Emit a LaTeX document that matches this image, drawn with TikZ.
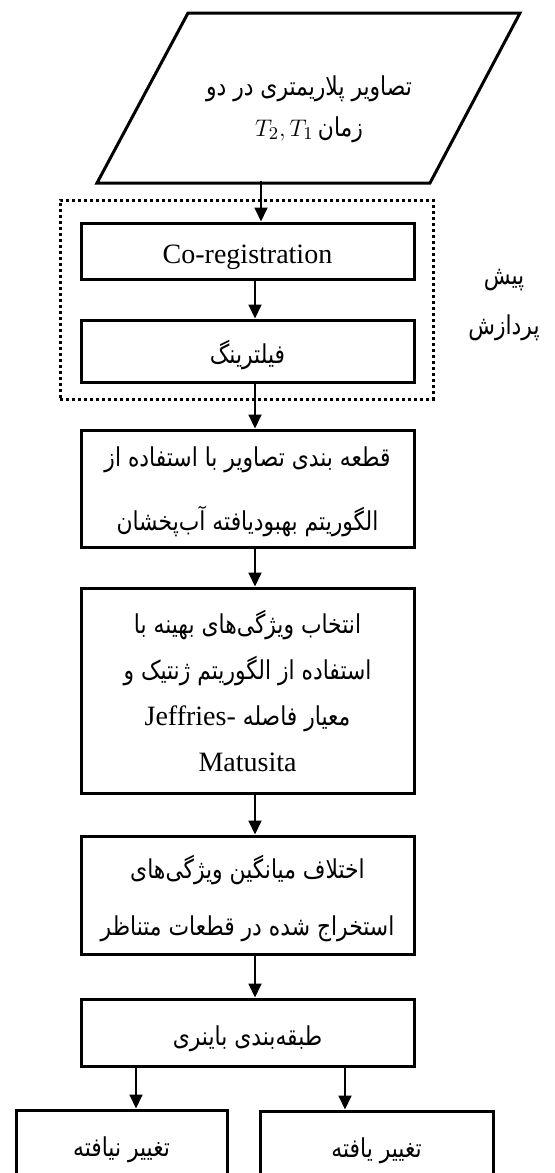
\documentclass[tikz,border=0pt]{standalone}
\usepackage{fontspec}
\setmainfont{Liberation Serif}
\newfontfamily\fa[Script=Arabic,FakeStretch=0.84]{DejaVu Sans}
\TeXXeTstate=1
\usetikzlibrary{arrows.meta}
\newcommand{\lowered}[2]{\raisebox{-#1}[\height][\depth]{#2}}
\tikzset{
  box/.style={draw, line width=1.5pt, minimum width=166.5pt, align=center,
    inner sep=0pt, text depth=0pt, font=\fa\fontsize{13}{24}\selectfont},
  latin/.style={font=\rmfamily\fontsize{14}{24}\selectfont},
  dotbox/.style={draw, line width=1.5pt, dash pattern=on 1.5pt off 1.5pt,
    minimum width=186.5pt, minimum height=99.5pt, inner sep=0pt},
  arr/.style={line width=0.9pt, -{Triangle[width=6.5pt,length=7pt]}},
}
\begin{document}
\begin{tikzpicture}[x=0.5pt,y=-0.5pt]
  \useasboundingbox (0,0) rectangle (554,1173);
  \clip (0,0) rectangle (554,1173);
  \draw
    (309,106) node[align=center, text depth=0pt, font=\fa\fontsize{13}{24}\selectfont] (input)
      {\beginR تصاویر پلاریمتری در دو\endR\\[-3.5pt]\beginR زمان\,\beginL$T_2, T_1$\endL\endR}
    (246.5,299.5) node[dotbox] (prep) {}
    (247.5,251) node[box, latin, minimum height=28pt] (coreg) {\lowered{1.5pt}{Co-registration}}
    (247.5,351) node[box, minimum height=31pt] (filter) {\lowered{0.5pt}{\beginR فیلترینگ\endR}}
    (504,305) node[align=center, font=\fa\fontsize{13}{24}\selectfont] (preplabel)
      {\beginR پیش\endR\\[1pt]\beginR پردازش\endR}
    (247.5,488.5) node[box, minimum height=58.5pt] (segment)
      {\beginR قطعه بندی تصاویر با استفاده از\endR\\[8pt]\beginR الگوریتم بهبودیافته آب^^^^200cپخشان\endR}
    (247.5,690.5) node[box, minimum height=102.5pt] (select)
      {\beginR انتخاب ویژگی^^^^200cهای بهینه با\endR\\[-1pt]\beginR استفاده از الگوریتم ژنتیک و\endR\\[-1pt]
       \beginR معیار فاصله \beginL{\rmfamily\fontsize{14}{24}\selectfont Jeffries-}\endL\endR\\[-1pt]
       {\rmfamily\fontsize{14}{24}\selectfont Matusita}}
    (247.5,895) node[box, minimum height=59pt] (diff)
      {\beginR اختلاف میانگین ویژگی^^^^200cهای\endR\\[4.5pt]\beginR استخراج شده در قطعات متناظر\endR}
    (247.5,1032.5) node[box, minimum height=33.5pt] (binary) {\lowered{1.5pt}{\beginR طبقه^^^^200cبندی باینری\endR}}
    (121.5,1147) node[box, minimum width=105.5pt, minimum height=37pt] (nochange) {\beginR تغییر نیافته\endR}
    (376.5,1148) node[box, minimum width=116.5pt, minimum height=37pt] (change) {\beginR تغییر یافته\endR};
  \draw[line width=1.5pt, line join=miter]
    ([shift={(-121,-93)}]input.center) -- ([shift={(211,-93)}]input.center)
    -- ([shift={(121,77)}]input.center) -- ([shift={(-212,77)}]input.center) -- cycle;
  \coordinate (inbot) at (261,181);
  \coordinate (ax) at (255,0);
  \coordinate (al) at (136,0);
  \coordinate (ar) at (345,0);
  \begin{scope}[arr]
    \draw (inbot) -- (inbot |- coreg.north);
    \draw (coreg.south -| ax) -- (filter.north -| ax);
    \draw (filter.south -| ax) -- (segment.north -| ax);
    \draw (segment.south -| ax) -- (select.north -| ax);
    \draw (select.south -| ax) -- (diff.north -| ax);
    \draw (diff.south -| ax) -- (binary.north -| ax);
    \draw (binary.south -| al) -- (nochange.north -| al);
    \draw (binary.south -| ar) -- (change.north -| ar);
  \end{scope}
\end{tikzpicture}
\end{document}
